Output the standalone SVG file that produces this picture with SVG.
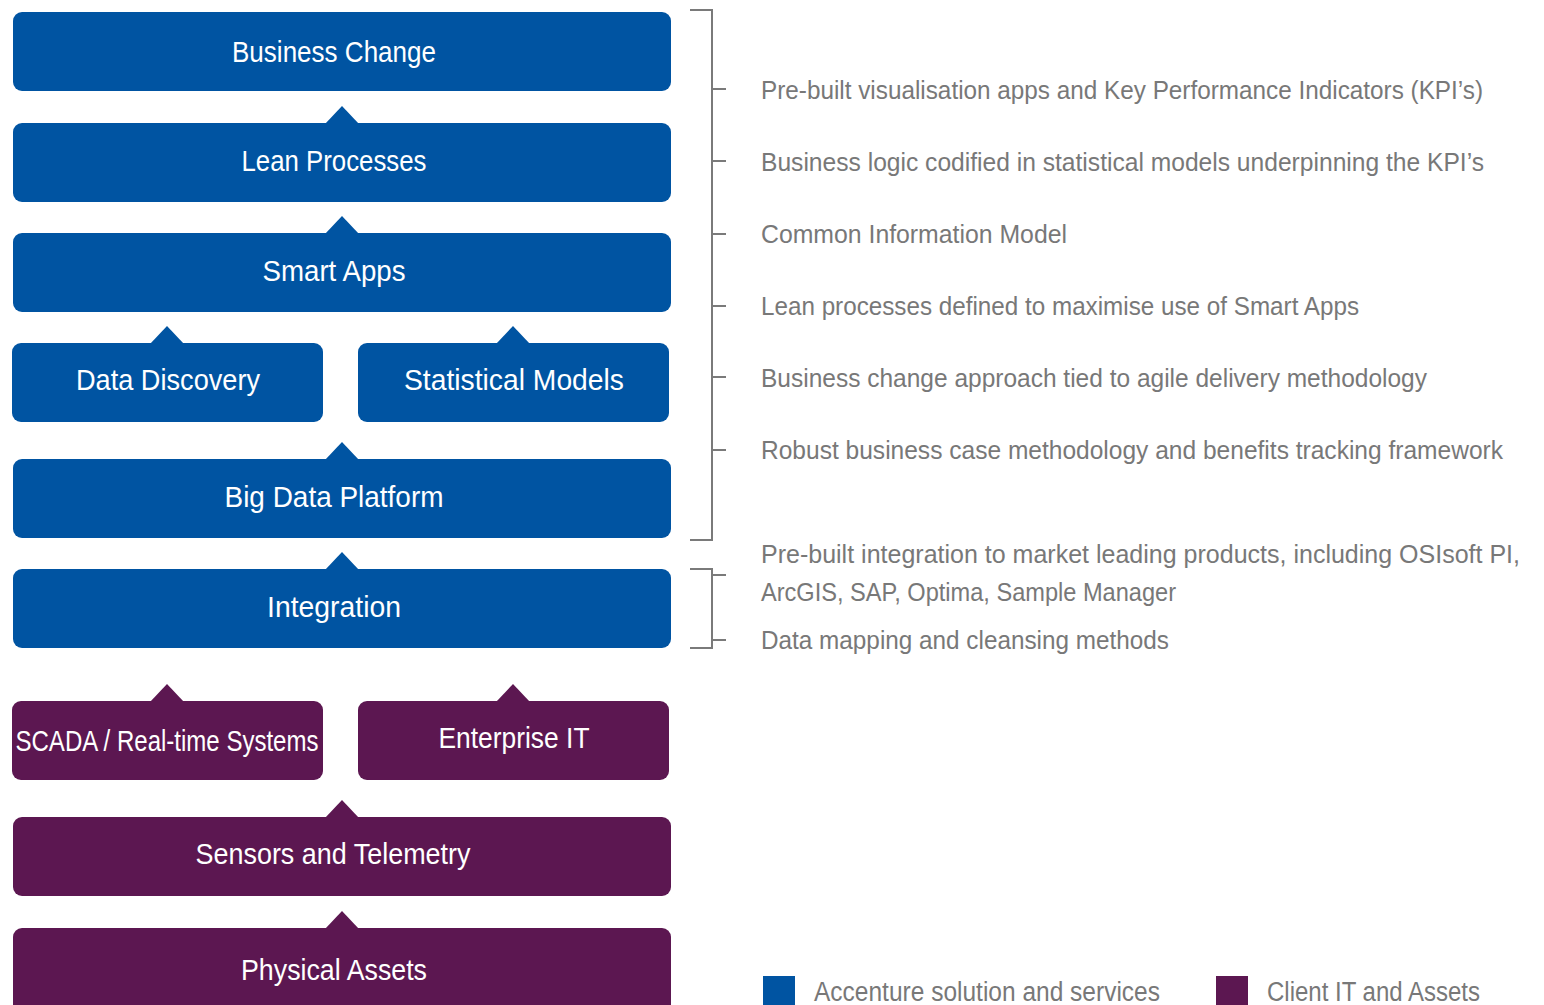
<svg xmlns="http://www.w3.org/2000/svg" width="1544" height="1005" viewBox="0 0 1544 1005">
<style>
.blue{fill:#0054A2}
.purple{fill:#5C1751}
.lbl{fill:#fff;font-family:"Liberation Sans Narrow","Liberation Sans",sans-serif;font-size:30px;text-anchor:middle}
.desc{fill:#787878;font-family:"Liberation Sans Narrow","Liberation Sans",sans-serif;font-size:25px}
.leg{fill:#787878;font-family:"Liberation Sans Narrow","Liberation Sans",sans-serif;font-size:27px}
.br{fill:none;stroke:#7a7a7a;stroke-width:2}
</style>
<rect width="1544" height="1005" fill="#fff"/>
<g id="connectors">
<path class="br" d="M690 10H712V540H690M712 89H726M712 161H726M712 234H726M712 306H726M712 377H726M712 450H726"/>
<path class="br" d="M690 569H712V648H690M712 575H726M712 640H726"/>
</g>
<g id="business-change"><rect class="blue" x="13" y="12" width="658" height="79" rx="9"/><text class="lbl" x="334" y="62" textLength="204" lengthAdjust="spacingAndGlyphs">Business Change</text></g>
<g id="lean-processes"><rect class="blue" x="13" y="123" width="658" height="79" rx="9"/><polygon class="blue" points="325,124 342,106 359,124"/><text class="lbl" x="334" y="171" textLength="185" lengthAdjust="spacingAndGlyphs">Lean Processes</text></g>
<g id="smart-apps"><rect class="blue" x="13" y="233" width="658" height="79" rx="9"/><polygon class="blue" points="325,234 342,216 359,234"/><text class="lbl" x="334" y="281" textLength="143" lengthAdjust="spacingAndGlyphs">Smart Apps</text></g>
<g id="data-discovery"><rect class="blue" x="12" y="343" width="311" height="79" rx="9"/><polygon class="blue" points="150,344 167,326 184,344"/><text class="lbl" x="168" y="390" textLength="184" lengthAdjust="spacingAndGlyphs">Data Discovery</text></g>
<g id="statistical-models"><rect class="blue" x="358" y="343" width="311" height="79" rx="9"/><polygon class="blue" points="496,344 513,326 530,344"/><text class="lbl" x="514" y="390" textLength="220" lengthAdjust="spacingAndGlyphs">Statistical Models</text></g>
<g id="big-data-platform"><rect class="blue" x="13" y="459" width="658" height="79" rx="9"/><polygon class="blue" points="325,460 342,442 359,460"/><text class="lbl" x="334" y="507" textLength="219" lengthAdjust="spacingAndGlyphs">Big Data Platform</text></g>
<g id="integration"><rect class="blue" x="13" y="569" width="658" height="79" rx="9"/><polygon class="blue" points="325,570 342,552 359,570"/><text class="lbl" x="334" y="617" textLength="134" lengthAdjust="spacingAndGlyphs">Integration</text></g>
<g id="scada"><rect class="purple" x="12" y="701" width="311" height="79" rx="9"/><polygon class="purple" points="150,702 167,684 184,702"/><text class="lbl" x="167" y="751" textLength="303" lengthAdjust="spacingAndGlyphs">SCADA / Real-time Systems</text></g>
<g id="enterprise-it"><rect class="purple" x="358" y="701" width="311" height="79" rx="9"/><polygon class="purple" points="496,702 513,684 530,702"/><text class="lbl" x="514" y="748" textLength="151" lengthAdjust="spacingAndGlyphs">Enterprise IT</text></g>
<g id="sensors-telemetry"><rect class="purple" x="13" y="817" width="658" height="79" rx="9"/><polygon class="purple" points="325,818 342,800 359,818"/><text class="lbl" x="333" y="864" textLength="275" lengthAdjust="spacingAndGlyphs">Sensors and Telemetry</text></g>
<g id="physical-assets"><rect class="purple" x="13" y="928" width="658" height="90" rx="9"/><polygon class="purple" points="325,929 342,911 359,929"/><text class="lbl" x="334" y="980" textLength="186" lengthAdjust="spacingAndGlyphs">Physical Assets</text></g>
<g id="descriptions">
<text class="desc" x="761" y="99" textLength="722" lengthAdjust="spacingAndGlyphs">Pre-built visualisation apps and Key Performance Indicators (KPI’s)</text>
<text class="desc" x="761" y="171" textLength="723" lengthAdjust="spacingAndGlyphs">Business logic codified in statistical models underpinning the KPI’s</text>
<text class="desc" x="761" y="243" textLength="306" lengthAdjust="spacingAndGlyphs">Common Information Model</text>
<text class="desc" x="761" y="315" textLength="598" lengthAdjust="spacingAndGlyphs">Lean processes defined to maximise use of Smart Apps</text>
<text class="desc" x="761" y="387" textLength="666" lengthAdjust="spacingAndGlyphs">Business change approach tied to agile delivery methodology</text>
<text class="desc" x="761" y="459" textLength="742" lengthAdjust="spacingAndGlyphs">Robust business case methodology and benefits tracking framework</text>
<text class="desc" x="761" y="563" textLength="759" lengthAdjust="spacingAndGlyphs">Pre-built integration to market leading products, including OSIsoft PI,</text>
<text class="desc" x="761" y="601" textLength="415" lengthAdjust="spacingAndGlyphs">ArcGIS, SAP, Optima, Sample Manager</text>
<text class="desc" x="761" y="649" textLength="408" lengthAdjust="spacingAndGlyphs">Data mapping and cleansing methods</text>
</g>
<g id="legend">
<rect class="blue" x="763" y="976" width="32" height="32"/>
<text class="leg" x="814" y="1001" textLength="346" lengthAdjust="spacingAndGlyphs">Accenture solution and services</text>
<rect class="purple" x="1216" y="976" width="32" height="32"/>
<text class="leg" x="1267" y="1001" textLength="213" lengthAdjust="spacingAndGlyphs">Client IT and Assets</text>
</g>
</svg>
